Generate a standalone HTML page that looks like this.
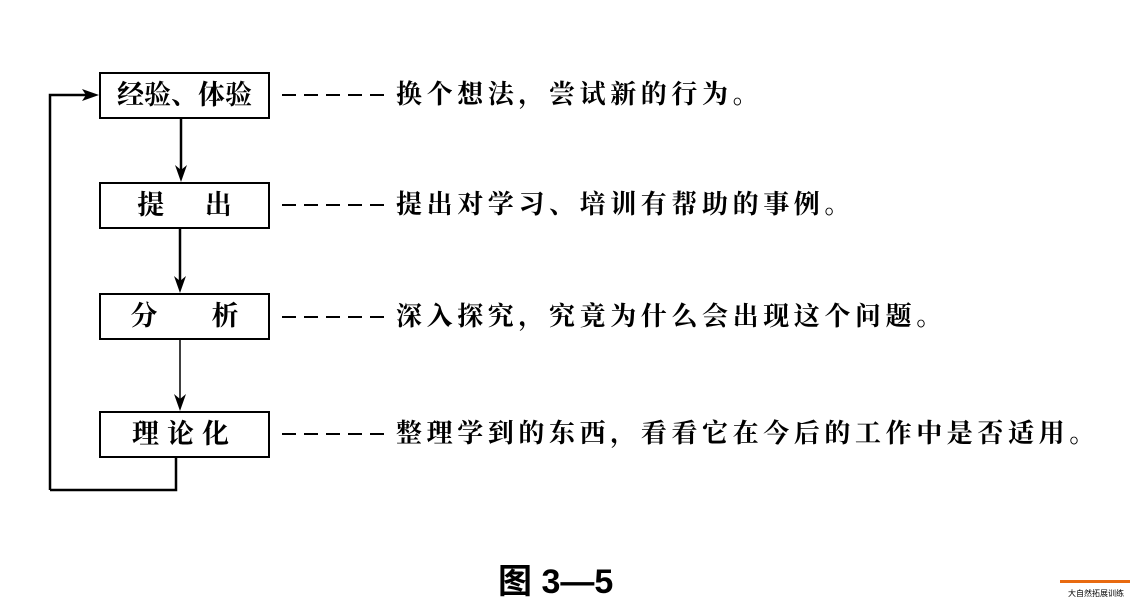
<!DOCTYPE html>
<html><head><meta charset="utf-8"><style>
body{margin:0;width:1138px;height:609px;background:#fff;position:relative;overflow:hidden;font-family:"Liberation Serif","Noto Serif CJK SC",serif;color:#000}
.b{position:absolute;border:2px solid #000;box-sizing:border-box;font-size:27px;font-weight:bold;text-align:center}
.t{position:absolute;left:396px;font-size:26px;font-weight:bold;white-space:nowrap;letter-spacing:4.6px;line-height:30px}
</style></head><body>
<svg width="1138" height="609" style="position:absolute;left:0;top:0">
<g stroke="#000" fill="none">
<path d="M50 490 V95 H95" stroke-width="2.5"/>
<path d="M176 457 V490 H50" stroke-width="2.5"/>
<line x1="181" y1="118" x2="181" y2="176" stroke-width="2.5"/>
<line x1="180" y1="228" x2="180" y2="287" stroke-width="2.5"/>
<line x1="180" y1="339" x2="180" y2="405" stroke-width="1.5"/>
<g stroke-width="2" stroke-dasharray="14,8">
<line x1="282" y1="95" x2="390" y2="95"/>
<line x1="282" y1="205" x2="390" y2="205"/>
<line x1="282" y1="317" x2="390" y2="317"/>
<line x1="282" y1="434" x2="390" y2="434"/>
</g></g>
<g fill="#000">
<polygon points="99,95 82,89 86,95 82,101"/>
<polygon points="181,182 175,165 181,170 187,165"/>
<polygon points="180,293 174,276 180,281 186,276"/>
<polygon points="180,411 174,394 180,399 186,394"/>
</g></svg>
<div class="b" style="left:99px;top:72px;width:171px;height:47px;line-height:43px">经验、体验</div>
<div class="b" style="left:99px;top:182px;width:171px;height:47px;line-height:43px">提&emsp;&ensp;出</div>
<div class="b" style="left:99px;top:293px;width:171px;height:47px;line-height:43px">分&emsp;&emsp;析</div>
<div class="b" style="left:99px;top:411px;width:171px;height:47px;line-height:43px;letter-spacing:8px">理论化</div>
<div class="t" style="top:80px">换个想法，尝试新的行为。</div>
<div class="t" style="top:190px">提出对学习、培训有帮助的事例。</div>
<div class="t" style="top:302px">深入探究，究竟为什么会出现这个问题。</div>
<div class="t" style="top:419px">整理学到的东西，看看它在今后的工作中是否适用。</div>
<div style="position:absolute;left:498px;top:554px;font-size:34px;font-weight:bold;font-family:'Liberation Sans','Noto Sans CJK SC',sans-serif">图 3—5</div>
<div style="position:absolute;left:1060px;top:566px;width:70px;height:14px;border-bottom:3px solid #e86a10"></div>
<div style="position:absolute;left:1068px;top:588px;font-size:8px;font-family:'Noto Sans CJK SC',sans-serif">大自然拓展训练</div>
</body></html>
